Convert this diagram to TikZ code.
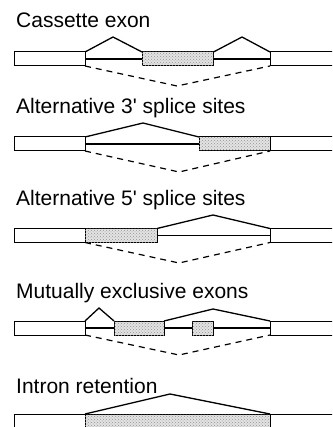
\documentclass[tikz,border=0pt]{standalone}
\usepackage{fontspec}
\setmainfont{Liberation Sans}
\usetikzlibrary{patterns}
\tikzset{
  exonbox/.style={draw=black, line width=1pt, fill=white},
  altexon/.style={draw=black, line width=1pt, fill=gray!22, postaction={pattern=crosshatch dots, pattern color=gray!85}},
  intron/.style={draw=black, line width=1.1pt},
  splice/.style={draw=black, line width=1.3pt, line join=miter},
  skip/.style={draw=black, line width=1.2pt, dash pattern=on 6pt off 5pt},
  title/.style={anchor=base west, inner sep=0pt, font=\fontsize{21}{24}\selectfont}
}
\begin{document}
\begin{tikzpicture}[x=1pt, y=-1pt]
\useasboundingbox (0,0) rectangle (332,427);
\clip (0,0) rectangle (332,427);

% ---------- Panel 1: Cassette exon ----------
\node[title] (t1) at (16,28) {Cassette exon};
\draw[intron] (85,59) -- (142,59);
\draw[intron] (213.5,59) -- (270,59);
\draw[exonbox] (14,52) rectangle (85,66);
\draw[altexon] (142,52) rectangle (213.5,66);
\draw[exonbox] (270,52) rectangle (345,66);
\draw[splice] (85,52) -- (113,37) -- (142,52);
\draw[splice] (213.5,52) -- (242,37) -- (270,52);
\draw[skip] (85,66) -- (177,86) -- (270,66);

% ---------- Panel 2: Alternative 3' splice sites ----------
\node[title] (t2) at (16,114) {Alternative 3\textquotesingle{} splice sites};
\draw[intron] (85,144) -- (199,144);
\draw[exonbox] (14,137) rectangle (85,151);
\draw[altexon] (199,137) rectangle (270,151);
\draw[exonbox] (270,137) rectangle (345,151);
\draw[splice] (85,137) -- (143,123) -- (199,137);
\draw[skip] (85,151) -- (179,172) -- (270,151);

% ---------- Panel 3: Alternative 5' splice sites ----------
\node[title] (t3) at (16,205) {Alternative 5\textquotesingle{} splice sites};
\draw[intron] (157,235.5) -- (270,235.5);
\draw[exonbox] (14,228.5) rectangle (85,242.5);
\draw[altexon] (85,228.5) rectangle (157,242.5);
\draw[exonbox] (270,228.5) rectangle (345,242.5);
\draw[splice] (157,228.5) -- (213,215) -- (270,228.5);
\draw[skip] (85,242.5) -- (179,263) -- (270,242.5);

% ---------- Panel 4: Mutually exclusive exons ----------
\node[title] (t4) at (16,298) {Mutually exclusive exons};
\draw[intron] (85,328) -- (114,328);
\draw[intron] (164,328) -- (192,328);
\draw[intron] (213,328) -- (270,328);
\draw[exonbox] (14,321) rectangle (85,335);
\draw[altexon] (114,321) rectangle (164,335);
\draw[altexon] (192,321) rectangle (213,335);
\draw[exonbox] (270,321) rectangle (345,335);
\draw[splice] (85,321) -- (99,308) -- (114,321);
\draw[splice] (164,321) -- (213,309) -- (270,321);
\draw[skip] (85,335) -- (179,355) -- (270,335);

% ---------- Panel 5: Intron retention ----------
\node[title] (t5) at (16,393) {Intron retention};
\draw[exonbox] (14,414) rectangle (85,440);
\draw[altexon] (85,414) rectangle (270,440);
\draw[exonbox] (270,414) rectangle (345,440);
\draw[splice] (85,414) -- (170,394) -- (270,414);
\end{tikzpicture}
\end{document}
